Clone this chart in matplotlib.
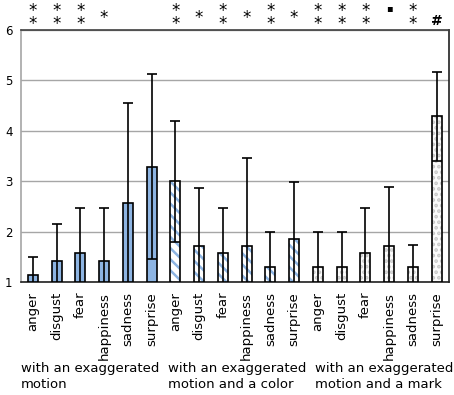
import matplotlib
matplotlib.use("Agg")
import matplotlib.pyplot as plt
import numpy as np

emotions = ["anger", "disgust", "fear", "happiness", "sadness", "surprise"]
groups = ["with an exaggerated\nmotion",
          "with an exaggerated\nmotion and a color",
          "with an exaggerated\nmotion and a mark"]

means_motion = [1.14, 1.42, 1.57, 1.42, 2.57, 3.29]
err_motion = [0.35, 0.74, 0.90, 1.05, 1.99, 1.83]
means_color = [3.00, 1.71, 1.57, 1.71, 1.29, 1.86]
err_color = [1.20, 1.16, 0.90, 1.76, 0.70, 1.13]
means_mark = [1.29, 1.29, 1.57, 1.71, 1.29, 4.29]
err_mark = [0.70, 0.70, 0.90, 1.17, 0.45, 0.88]

sig_motion = ["**", "**", "**", "*", "", ""]
sig_color = ["**", "*", "**", "*", "**", "*"]
sig_mark = ["**", "**", "**", "\u25aa", "**", "#"]

yticks = [1, 2, 3, 4, 5, 6]

plt.rcParams['hatch.linewidth'] = 1.8
fig = plt.figure(figsize=(4.54, 3.95), dpi=100)
ax = fig.add_axes([0.046, 0.286, 0.942, 0.638])

blue = "#8DB4E2"
width = 0.42

all_means = [means_motion, means_color, means_mark]
all_errs = [err_motion, err_color, err_mark]
all_sig = [sig_motion, sig_color, sig_mark]

H = 395.0
def fy(px):
    return 1 - px / H

labels = []
for g in range(3):
    x = np.arange(6) + 6 * g
    h = np.array(all_means[g]) - 1
    if g == 0:
        ax.bar(x, h, bottom=1, width=width, facecolor=blue,
               edgecolor="black", linewidth=1.2, zorder=3)
    elif g == 1:
        ax.bar(x, h, bottom=1, width=width, facecolor="white",
               edgecolor=blue, linewidth=0, hatch="\\\\\\", zorder=3)
        ax.bar(x, h, bottom=1, width=width, facecolor="none",
               edgecolor="black", linewidth=1.2, zorder=4)
    else:
        ax.bar(x, h, bottom=1, width=width, facecolor="#fbfbfb",
               edgecolor="#c8c8c8", linewidth=0, hatch="...", zorder=3)
        ax.bar(x, h, bottom=1, width=width, facecolor="none",
               edgecolor="black", linewidth=1.2, zorder=4)
    ax.errorbar(x, all_means[g], yerr=all_errs[g], fmt="none",
                ecolor="black", elinewidth=1.2, capsize=3.5, capthick=1.2,
                zorder=5)
    labels += emotions

ax.set_xlim(-0.5, 17.5)
ax.set_ylim(1, 6)
ax.set_yticks(yticks)
ax.set_yticklabels([str(t) for t in yticks], fontsize=8.5)
ax.set_xticks(np.arange(18))
ax.set_xticklabels(labels, rotation=90, fontsize=9.5, va="top")
ax.tick_params(axis="both", length=0, pad=6)
ax.tick_params(axis="x", pad=7)
ax.yaxis.grid(True, color="#a6a6a6", linewidth=1.0, zorder=0)
ax.set_axisbelow(True)
ax.spines["left"].set_color("#a6a6a6")
ax.spines["top"].set_color("#404040")
ax.spines["right"].set_color("#202020")
ax.spines["bottom"].set_color("#202020")
for sp in ax.spines.values():
    sp.set_linewidth(1.2)

# significance marks above bars
trans = matplotlib.transforms.blended_transform_factory(ax.transData, fig.transFigure)
for g in range(3):
    for i, s in enumerate(all_sig[g]):
        xi = 6 * g + i
        if s == "**":
            ax.text(xi, fy(29.5), "*\n*", transform=trans, ha="center",
                    va="baseline", fontsize=12, linespacing=0.68,
                    multialignment="center", clip_on=False)
        elif s == "*":
            ax.text(xi, fy(23), "*", transform=trans, ha="center",
                    va="baseline", fontsize=12, clip_on=False)
        elif s == "#":
            ax.text(xi, fy(25), "#", transform=trans, ha="center",
                    va="baseline", fontsize=10, fontweight="bold", clip_on=False)
        elif s:
            ax.text(xi, fy(11), s, transform=trans, ha="center",
                    va="baseline", fontsize=7, clip_on=False)

for g in range(3):
    fig.text((21 + 147 * g) / 454, fy(362), groups[g], fontsize=9.5,
             ha="left", va="top", linespacing=1.35)

fig.savefig("out.png", dpi=100)
